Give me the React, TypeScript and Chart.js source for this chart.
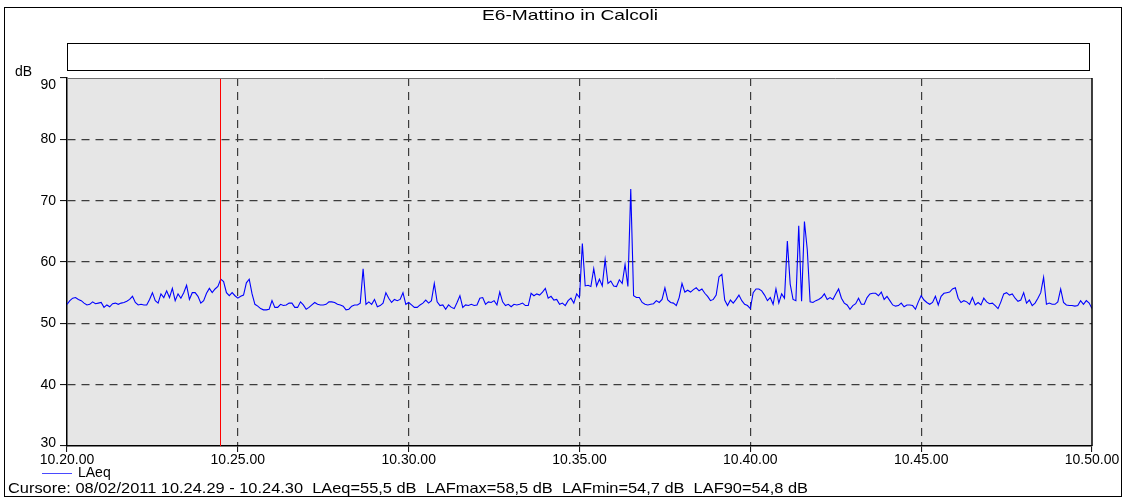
import React, { useEffect, useRef } from "react";
import { Chart, registerables } from "chart.js";
Chart.register(...registerables);

const TITLE = "E6-Mattino in Calcoli";
const SERIES_LABEL = "LAeq";
const Y_UNIT = "dB";
const START_HOUR = 10;
const START_MIN = 20;
const STEP_S = 5;
const X_MIN = 0;
const X_MAX = 1800;
const X_STEP = 300;
const Y_MIN = 30;
const Y_MAX = 90;
const Y_STEP = 10;
const CURSOR_S = 269;
const CURSOR_TEXT =
  "Cursore: 08/02/2011 10.24.29 - 10.24.30  LAeq=55,5 dB  LAFmax=58,5 dB  LAFmin=54,7 dB  LAF90=54,8 dB";

// LAeq values every 5 s, split in 5-minute blocks
const LAEQ_2020 = [
  53.1, 53.7, 54.1, 54.2, 53.9, 53.7, 53.3, 53.0, 53.1, 53.5,
  53.2, 53.3, 53.4, 52.6, 53.0, 52.7, 53.2, 53.3, 53.1, 53.3,
  53.4, 53.6, 53.9, 54.4, 53.4, 53.0, 53.1, 53.0, 53.0, 53.9,
  55.0, 53.7, 53.3, 54.8, 54.2, 55.3, 54.2, 55.7, 53.7, 54.8,
  54.1, 55.0, 56.2, 53.9, 55.0, 55.0, 54.4, 53.3, 53.7, 54.9,
  55.7, 55.0, 55.6, 56.0, 57.2, 56.8, 55.0, 54.5, 55.0, 54.5,
];
const LAEQ_2025 = [
  54.1, 54.4, 54.6, 56.6, 57.2, 54.8, 53.1, 52.8, 52.4, 52.2,
  52.2, 52.3, 53.7, 52.6, 52.6, 53.1, 52.9, 53.0, 53.3, 53.3,
  52.6, 52.6, 53.5, 53.0, 52.3, 52.6, 53.0, 53.4, 53.1, 53.0,
  53.0, 53.1, 53.5, 53.5, 53.4, 53.1, 53.0, 52.8, 52.2, 52.3,
  52.8, 53.0, 53.0, 53.3, 58.9, 53.1, 53.5, 53.1, 53.9, 52.7,
  52.9, 53.3, 55.0, 54.1, 53.4, 53.9, 53.7, 53.9, 55.0, 53.1,
];
const LAEQ_2030 = [
  53.4, 53.0, 52.6, 52.6, 53.0, 53.3, 53.8, 53.3, 53.7, 56.5,
  53.5, 52.9, 53.0, 52.3, 53.0, 52.6, 52.4, 53.4, 54.5, 52.6,
  53.0, 52.9, 53.1, 52.9, 53.0, 54.1, 54.2, 53.1, 53.5, 53.4,
  53.7, 53.0, 55.1, 53.5, 52.9, 53.1, 52.7, 53.1, 53.0, 53.1,
  53.3, 52.9, 52.9, 54.9, 54.5, 54.8, 54.6, 55.1, 55.7, 54.1,
  54.4, 53.8, 53.9, 53.1, 53.3, 52.9, 53.7, 54.1, 53.3, 54.8,
];
const LAEQ_2035 = [
  54.2, 63.0, 56.1, 56.2, 56.0, 58.9, 56.1, 57.2, 56.1, 60.4,
  56.5, 56.9, 56.1, 56.0, 57.1, 56.5, 59.6, 56.0, 71.9, 54.5,
  54.2, 54.2, 53.4, 53.1, 53.0, 53.1, 53.2, 53.7, 53.4, 53.9,
  55.8, 53.8, 53.4, 53.3, 52.9, 54.2, 56.5, 55.1, 55.4, 55.1,
  55.5, 55.8, 55.3, 55.6, 54.9, 54.4, 53.7, 53.9, 54.6, 57.6,
  58.0, 53.8, 52.9, 53.8, 53.3, 53.9, 54.6, 53.7, 53.1, 52.9,
];
const LAEQ_2040 = [
  52.4, 55.0, 55.6, 55.6, 55.3, 54.6, 53.7, 54.2, 53.1, 55.6,
  53.3, 54.8, 54.1, 63.4, 56.4, 53.9, 53.7, 65.9, 53.6, 66.6,
  62.0, 53.5, 53.4, 53.7, 53.9, 54.2, 54.8, 53.9, 54.2, 53.9,
  54.8, 55.6, 54.1, 53.3, 53.0, 52.3, 52.9, 53.2, 54.1, 53.1,
  53.1, 54.2, 54.8, 54.9, 54.9, 54.5, 55.1, 53.9, 54.4, 53.7,
  53.0, 52.8, 52.9, 53.3, 52.7, 53.0, 53.0, 52.9, 52.3, 53.5,
];
const LAEQ_2045 = [
  54.5, 53.8, 53.4, 53.1, 53.4, 54.4, 53.0, 54.4, 54.9, 55.0,
  55.1, 55.6, 55.8, 54.1, 53.4, 53.7, 53.5, 53.1, 54.2, 53.0,
  53.4, 53.0, 54.1, 53.5, 53.2, 53.3, 52.9, 52.4, 53.5, 54.8,
  55.0, 54.6, 54.8, 54.1, 53.6, 53.8, 55.0, 53.3, 53.8, 52.9,
  53.3, 54.1, 55.0, 57.5, 53.1, 53.3, 53.1, 53.1, 53.5, 55.6,
  53.4, 53.0, 52.9, 52.9, 52.8, 52.9, 53.7, 53.1, 53.7, 53.3,
  52.4,
];

const LAEQ = [...LAEQ_2020, ...LAEQ_2025, ...LAEQ_2030, ...LAEQ_2035, ...LAEQ_2040, ...LAEQ_2045];

const FONT = "'Liberation Sans', Arial, sans-serif";

function fmtTime(sec: number): string {
  const total = START_HOUR * 3600 + START_MIN * 60 + sec;
  const h = Math.floor(total / 3600);
  const m = Math.floor((total % 3600) / 60);
  const s = Math.floor(total % 60);
  const p = (n: number) => String(n).padStart(2, "0");
  return `${h}.${p(m)}.${p(s)}`;
}

// draw text stretched horizontally to a target width (keeps it as real text)
function fitText(ctx: CanvasRenderingContext2D, text: string, x: number, y: number, w: number, align: "left" | "center") {
  const mw = ctx.measureText(text).width;
  const k = w / mw;
  ctx.save();
  ctx.textAlign = "left";
  const x0 = align === "center" ? x - w / 2 : x;
  ctx.translate(x0, y);
  ctx.scale(k, 1);
  ctx.fillText(text, 0, 0);
  ctx.restore();
}

const decorPlugin = {
  id: "decor",
  beforeDraw(chart: any) {
    const { ctx, chartArea, width, height } = chart;
    ctx.save();
    ctx.fillStyle = "#ffffff";
    ctx.fillRect(0, 0, width, height);
    // outer frame
    ctx.strokeStyle = "#000";
    ctx.lineWidth = 1;
    ctx.strokeRect(4.5, 7.5, width - 8, height - 9);
    // title
    ctx.fillStyle = "#000";
    ctx.font = `15px ${FONT}`;
    ctx.textBaseline = "middle";
    fitText(ctx, TITLE, 570, 16, 176, "center");
    // empty box
    ctx.strokeStyle = "#000";
    ctx.strokeRect(67.5, 43.5, 1022, 27);
    // plot background
    ctx.fillStyle = "#e6e6e6";
    ctx.fillRect(chartArea.left, chartArea.top, chartArea.right - chartArea.left, chartArea.bottom - chartArea.top);
    ctx.restore();
  },
  afterDatasetsDraw(chart: any) {
    const { ctx, chartArea } = chart;
    const xs = chart.scales.x;
    const ys = chart.scales.y;
    ctx.save();
    // cursor
    const cx = Math.round(xs.getPixelForValue(CURSOR_S)) + 0.5;
    ctx.strokeStyle = "#ff0000";
    ctx.lineWidth = 1;
    ctx.beginPath();
    ctx.moveTo(cx, chartArea.top);
    ctx.lineTo(cx, chartArea.bottom);
    ctx.stroke();
    // top edge & right border
    ctx.strokeStyle = "#707070";
    ctx.beginPath();
    ctx.moveTo(chartArea.left, chartArea.top + 0.5);
    ctx.lineTo(chartArea.right, chartArea.top + 0.5);
    ctx.stroke();
    ctx.strokeStyle = "#000";
    ctx.lineWidth = 1.5;
    ctx.beginPath();
    ctx.moveTo(chartArea.right, chartArea.top);
    ctx.lineTo(chartArea.right, chartArea.bottom);
    ctx.stroke();
    // y tick labels
    ctx.fillStyle = "#000";
    ctx.font = `14px ${FONT}`;
    ctx.textAlign = "right";
    ctx.textBaseline = "middle";
    ys.ticks.forEach((t: any) => {
      let py = ys.getPixelForValue(t.value);
      if (py < chartArea.top + 7) py = chartArea.top + 7;
      if (py > chartArea.bottom - 3) py = chartArea.bottom - 3;
      ctx.fillText(String(t.value), 56, py);
    });
    // unit
    ctx.textAlign = "left";
    ctx.fillText(Y_UNIT, 15, 72);
    // legend
    const ds = chart.data.datasets[0];
    ctx.strokeStyle = "#4a4aff";
    ctx.lineWidth = 1;
    ctx.beginPath();
    ctx.moveTo(42, 473.5);
    ctx.lineTo(72, 473.5);
    ctx.stroke();
    ctx.fillStyle = "#000";
    ctx.fillText(ds.label, 78, 473);
    // cursor info
    ctx.font = `15px ${FONT}`;
    fitText(ctx, CURSOR_TEXT, 8, 489, 800, "left");
    ctx.restore();
  },
};

export default function App() {
  const ref = useRef<HTMLCanvasElement>(null);
  useEffect(() => {
    document.body.style.margin = "0";
    const points = LAEQ.map((v, i) => ({ x: i * STEP_S, y: v }));
    const chart = new Chart(ref.current!, {
      type: "line",
      data: {
        datasets: [
          {
            label: SERIES_LABEL,
            data: points,
            borderColor: "#0000ff",
            borderWidth: 1.1,
            pointRadius: 0,
            tension: 0,
            fill: false,
          },
        ],
      },
      options: {
        responsive: false,
        animation: false,
        events: [],
        layout: { padding: { left: 0, right: 33, top: 78, bottom: 0 } },
        plugins: { legend: { display: false }, tooltip: { enabled: false }, title: { display: false } },
        scales: {
          x: {
            type: "linear",
            min: X_MIN,
            max: X_MAX,
            afterFit: (s: any) => {
              s.height = 52;
            },
            afterBuildTicks: (s: any) => {
              const t = [];
              for (let v = X_MIN; v <= X_MAX; v += X_STEP) t.push({ value: v });
              s.ticks = t;
            },
            ticks: {
              stepSize: X_STEP,
              color: "#000",
              font: { family: FONT, size: 14 },
              padding: 0,
              maxRotation: 0,
              callback: (v: any) => fmtTime(Number(v)),
            },
            grid: {
              color: (c: any) =>
                c.tick && (c.tick.value === X_MIN || c.tick.value === X_MAX) ? "rgba(0,0,0,0)" : "#3c3c3c",
              lineWidth: 1.2,
              tickColor: "#000",
              tickLength: 6,
              tickBorderDash: [],
              tickWidth: 1,
            },
            border: { display: true, color: "#000", width: 1.5, dash: [8, 6] as any },
          },
          y: {
            type: "linear",
            min: Y_MIN,
            max: Y_MAX,
            afterFit: (s: any) => {
              s.width = 67;
            },
            ticks: { stepSize: Y_STEP, display: false },
            grid: {
              color: (c: any) =>
                c.tick && (c.tick.value === Y_MIN || c.tick.value === Y_MAX) ? "rgba(0,0,0,0)" : "#3c3c3c",
              lineWidth: 1.2,
              tickColor: "#000",
              tickLength: 7,
              tickBorderDash: [],
              tickWidth: 1,
            },
            border: { display: true, color: "#000", width: 1.5, dash: [8, 6] as any },
          },
        },
      },
      plugins: [decorPlugin],
    });
    return () => chart.destroy();
  }, []);
  return (
    <div style={{ width: 1125, height: 498 }}>
      <canvas ref={ref} width={1125} height={498} style={{ display: "block" }} />
    </div>
  );
}
